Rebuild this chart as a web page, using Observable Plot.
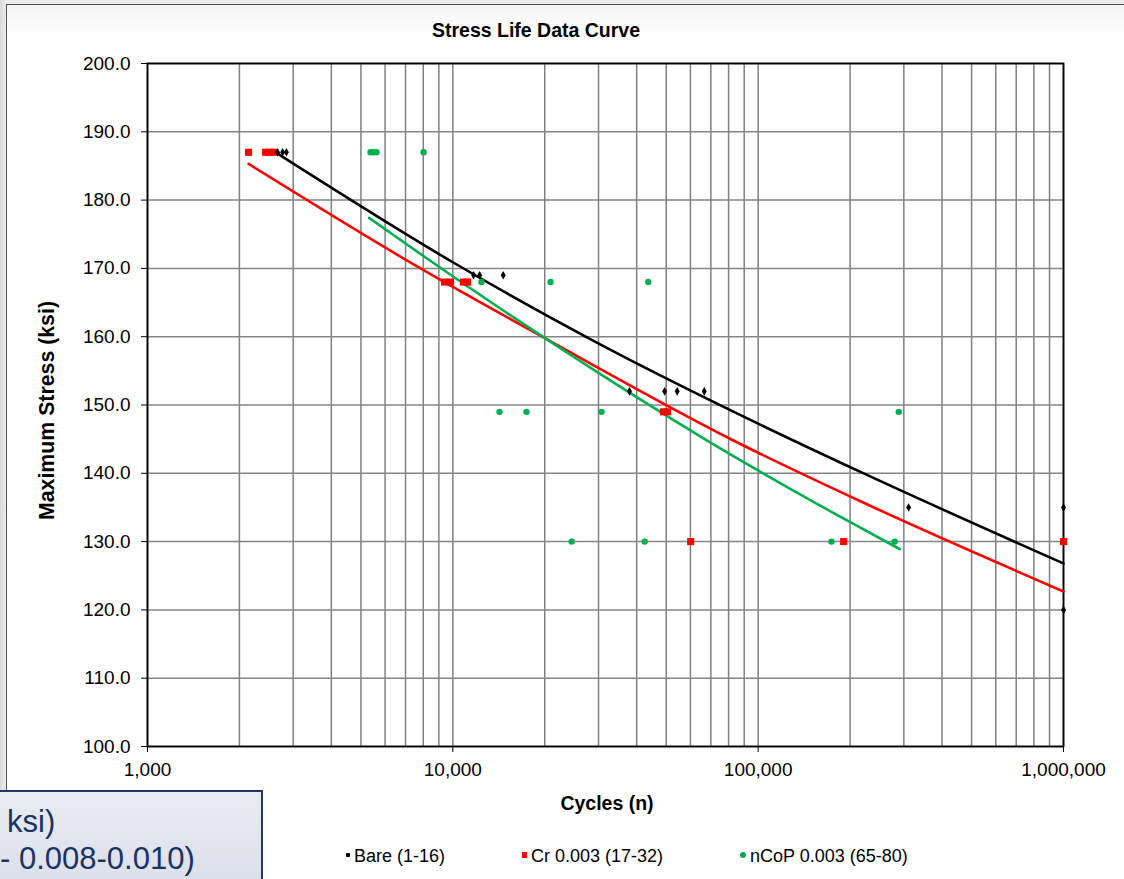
<!DOCTYPE html>
<html>
<head>
<meta charset="utf-8">
<script src="https://cdn.jsdelivr.net/npm/d3@7"></script>
<script src="https://cdn.jsdelivr.net/npm/@observablehq/plot@0.6"></script>
<style>
html,body{margin:0;padding:0;}
body{width:1124px;height:879px;overflow:hidden;position:relative;background:linear-gradient(90deg,#d9d9d9,#ececec 6px);font-family:"Liberation Sans",Arial,sans-serif;}
#panel{position:absolute;left:6px;top:4px;width:1140px;height:900px;background:linear-gradient(180deg,#f4f4f4 0px,#ffffff 30px);border:1.5px solid #505050;box-sizing:border-box;}
#chart{position:absolute;left:0;top:0;}
.lbl{position:absolute;font-weight:bold;color:#000;white-space:nowrap;}
#title{top:19px;left:336px;width:400px;text-align:center;font-size:19.5px;}
#xlabel{top:792px;left:407px;width:400px;text-align:center;font-size:19.5px;}
#ylabel{top:398px;left:-153px;width:400px;text-align:center;font-size:21.3px;transform:rotate(-90deg);}
#legend{position:absolute;top:846px;left:0;width:1124px;height:24px;font-size:18px;}
#legend span.item{position:absolute;white-space:nowrap;}
.sw{display:inline-block;vertical-align:middle;margin-right:4px;position:relative;top:-2px;}
#note{position:absolute;left:-20px;top:790px;width:283px;height:120px;box-sizing:border-box;border:2px solid #1f3864;background:linear-gradient(180deg,#e9ebf2,#d9dde8);color:#1a3366;font-size:31px;font-family:"Liberation Sans",Arial,sans-serif;}
#note div{position:absolute;white-space:nowrap;}
</style>
</head>
<body>
<div id="panel"></div>
<div id="chart"></div>
<div class="lbl" id="title">Stress Life Data Curve</div>
<div class="lbl" id="xlabel">Cycles (n)</div>
<div class="lbl" id="ylabel">Maximum Stress (ksi)</div>
<div id="legend"></div>
<div id="note"><div style="left:25px;top:12px;">ksi)</div><div style="left:18px;top:49px;">- 0.008-0.010)</div></div>
<script>
// ---- Data ----
const bareCycles = [2667, 2770, 2850, 11700, 12240, 14620, 37900, 49400, 54300, 66600, 311000, 1000000, 1000000];
const bareStress = [187, 187, 187, 169, 169, 169, 152, 152, 152, 152, 135, 135, 120];

const crCycles = [2143, 2435, 2510, 2586, 9393, 9830, 10840, 11170, 48980, 50470, 60100, 190500, 1000000];
const crStress = [187, 187, 187, 187, 168, 168, 168, 168, 149, 149, 130, 130, 130];

const ncopCycles = [5375, 5500, 5625, 8020, 12410, 20900, 43650, 14220, 17430, 30700, 288600, 24500, 42500, 173800, 280000];
const ncopStress = [187, 187, 187, 187, 168, 168, 168, 149, 149, 149, 149, 130, 130, 130, 130];

// trend lines
const bareTrendCycles = [2667, 10000, 28900, 101900, 216300, 1000000];
const bareTrendStress = [186.8, 170.9, 159.4, 147.1, 140.2, 126.8];
const crTrendCycles = [2143, 7835, 19800, 83000, 216300, 1000000];
const crTrendStress = [185.3, 170.0, 159.9, 144.8, 135.9, 122.7];
const ncopTrendCycles = [5320, 7835, 19860, 68100, 201000, 291000];
const ncopTrendStress = [177.4, 172.1, 159.9, 144.8, 132.8, 128.9];

const yTicks = [100, 110, 120, 130, 140, 150, 160, 170, 180, 190, 200];
const xTicks = [1000, 10000, 100000, 1000000];

const seriesNames = ["Bare (1-16)", "Cr 0.003 (17-32)", "nCoP 0.003 (65-80)"];
const seriesColors = ["#000000", "#ff0000", "#00b050"];

// ---- build tables ----
const pts = (xs, ys) => xs.map((x, i) => ({x, y: ys[i]}));
const bare = pts(bareCycles, bareStress);
const cr = pts(crCycles, crStress);
const ncop = pts(ncopCycles, ncopStress);
const bareT = pts(bareTrendCycles, bareTrendStress);
const crT = pts(crTrendCycles, crTrendStress);
const ncopT = pts(ncopTrendCycles, ncopTrendStress);

const xDomain = [1000, 1000000];
const xGrid = d3.scaleLog().domain(xDomain).ticks();

const plot = Plot.plot({
  width: 1124,
  height: 879,
  marginLeft: 147,
  marginRight: 61,
  marginTop: 63,
  marginBottom: 133,
  style: {background: "transparent", fontFamily: "'Liberation Sans', Arial, sans-serif", fontSize: "19px", color: "#000", overflow: "visible"},
  x: {type: "log", domain: xDomain},
  y: {domain: [100, 200]},
  marks: [
    Plot.ruleX(xGrid, {stroke: "#808080", strokeWidth: 1.5}),
    Plot.ruleY(yTicks, {stroke: "#858585", strokeWidth: 1.5}),
    Plot.frame({stroke: "#000", strokeWidth: 1.8}),
    Plot.axisY(yTicks, {tickFormat: d3.format(".1f"), tickSize: 6, tickPadding: 11, label: null, fontSize: 19, stroke: "#000"}),
    Plot.axisX(xTicks, {tickFormat: d3.format(","), tickSize: 6, tickPadding: 10, label: null, fontSize: 19, stroke: "#000"}),
    Plot.line(bareT, {x: "x", y: "y", stroke: seriesColors[0], strokeWidth: 2.6, curve: "monotone-x"}),
    Plot.line(crT, {x: "x", y: "y", stroke: seriesColors[1], strokeWidth: 2.6, curve: "monotone-x"}),
    Plot.line(ncopT, {x: "x", y: "y", stroke: seriesColors[2], strokeWidth: 2.6, curve: "monotone-x"}),
    Plot.dot(ncop, {x: "x", y: "y", r: 3.2, fill: seriesColors[2], stroke: "none"}),
    Plot.dot(cr, {x: "x", y: "y", symbol: "square", r: 4, fill: seriesColors[1], stroke: "none"}),
    Plot.dot(bare, {x: "x", y: "y", symbol: "diamond", r: 2.6, fill: seriesColors[0], stroke: "none"})
  ]
});
document.getElementById("chart").appendChild(plot);

// ---- legend ----
const legend = document.getElementById("legend");
const legendX = [346, 522, 740];
const swatch = [
  '<span class="sw" style="width:4px;height:4px;background:#000;border-radius:1px;"></span>',
  '<span class="sw" style="width:5px;height:6px;background:#ff0000;"></span>',
  '<span class="sw" style="width:6px;height:6px;background:#00b050;border-radius:50%;"></span>'
];
seriesNames.forEach((name, i) => {
  const s = document.createElement("span");
  s.className = "item";
  s.style.left = legendX[i] + "px";
  s.innerHTML = swatch[i] + name;
  legend.appendChild(s);
});
</script>
</body>
</html>
